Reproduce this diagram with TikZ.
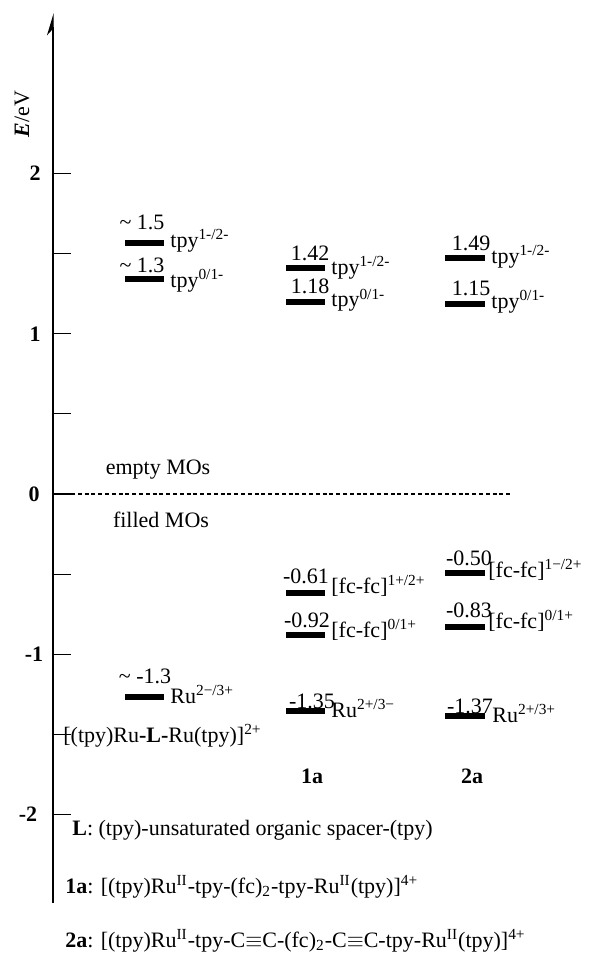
\documentclass[tikz,border=0pt]{standalone}
\usepackage{fontspec}
\setmainfont{Liberation Serif}
\usetikzlibrary{arrows.meta}
\definecolor{ink}{HTML}{000000}
\tikzset{>=Stealth,axis/.style={draw=ink,line width=0.65pt},
  tick/.style={draw=ink,line width=0.6pt},
  lvl/.style={draw=ink,line width=3pt},
  zero/.style={draw=ink,line width=0.6pt,dash pattern=on 2pt off 1.4pt},
  num/.style={anchor=base,inner sep=0pt,font=\fontsize{11}{13}\selectfont},
  lab/.style={anchor=base west,inner sep=0pt,font=\fontsize{11}{13}\selectfont},
  tickn/.style={inner sep=0pt,font=\fontsize{11}{13}\selectfont\bfseries},
  note/.style={inner sep=0pt,font=\fontsize{11}{13}\selectfont}}

\begin{document}
\begin{tikzpicture}[x=0.5pt,y=80.15pt]
  \useasboundingbox (0,-2.863) rectangle (593,3.082);
  % energy axis
  \draw[axis,-{Stealth[left,length=10pt,width=6pt]}] (53,-2.551) -- (53,3.0);
  \foreach \e in {-2,-1.5,...,2} \draw[tick] (53,\e) -- (71,\e);
  \node[tickn] (t2) at (35,2) {2};
  \node[tickn] (t1) at (35,1) {1};
  \node[tickn] (t0) at (34,0) {0};
  \node[tickn] (tm1) at (34,-1) {-1};
  \node[tickn] (tm2) at (28,-2) {-2};
  \node[note,rotate=90] (elab) at (22,2.371) {\textbf{\textit{E}}/eV};
  \draw[zero] (71,0) -- (512,0);
  \node[note] (empty) at (158,0.150) {empty MOs};
  \node[note] (filled) at (161,-0.162) {filled MOs};
  % parent complex
  \draw[lvl] (125,1.566) -- (164,1.566);
  \draw[lvl] (125,1.341) -- (164,1.341);
  \draw[lvl] (125,-1.266) -- (164,-1.266);
  \node[num] (p1v) at (142,1.653) {\textasciitilde\ 1.5};
  \node[lab] (p1l) at (170,1.541) {tpy\textsuperscript{1-/2-}};
  \node[num] (p2v) at (142,1.385) {\textasciitilde\ 1.3};
  \node[lab] (p2l) at (170,1.291) {tpy\textsuperscript{0/1-}};
  \node[num] (p3v) at (145,-1.179) {\textasciitilde\ -1.3};
  \node[lab] (p3l) at (170,-1.304) {Ru\textsuperscript{2−/3+}};
  \node[lab] (pname) at (63,-1.547) {[(tpy)Ru\textbf{-L-}Ru(tpy)]\textsuperscript{2+}};
  % 1a
  \draw[lvl] (286,1.412) -- (325,1.412);
  \draw[lvl] (286,1.200) -- (325,1.200);
  \draw[lvl] (286,-0.616) -- (325,-0.616);
  \draw[lvl] (286,-0.880) -- (325,-0.880);
  \draw[lvl] (286,-1.352) -- (325,-1.352);
  \node[num] (a1v) at (310,1.454) {1.42};
  \node[lab] (a1l) at (331,1.372) {tpy\textsuperscript{1-/2-}};
  \node[num] (a2v) at (310,1.254) {1.18};
  \node[lab] (a2l) at (331,1.167) {tpy\textsuperscript{0/1-}};
  \node[num] (a3v) at (306,-0.561) {-0.61};
  \node[lab] (a3l) at (331,-0.618) {[fc-fc]\textsuperscript{1+/2+}};
  \node[num] (a4v) at (307,-0.830) {-0.92};
  \node[lab] (a4l) at (331,-0.892) {[fc-fc]\textsuperscript{0/1+}};
  \node[num] (a5v) at (312,-1.335) {-1.35};
  \node[lab] (a5l) at (331,-1.391) {Ru\textsuperscript{2+/3−}};
  \node[note] (a) at (312,-1.759) {\textbf{1a}};
  % 2a
  \draw[lvl] (445,1.474) -- (485,1.474);
  \draw[lvl] (445,1.187) -- (485,1.187);
  \draw[lvl] (445,-0.493) -- (485,-0.493);
  \draw[lvl] (445,-0.828) -- (485,-0.828);
  \draw[lvl] (445,-1.383) -- (485,-1.383);
  \node[num] (b1v) at (471,1.522) {1.49};
  \node[lab] (b1l) at (491,1.441) {tpy\textsuperscript{1-/2-}};
  \node[num] (b2v) at (471,1.241) {1.15};
  \node[lab] (b2l) at (491,1.160) {tpy\textsuperscript{0/1-}};
  \node[num] (b3v) at (469,-0.443) {-0.50};
  \node[lab] (b3l) at (488,-0.518) {[fc-fc]\textsuperscript{1−/2+}};
  \node[num] (b4v) at (469,-0.767) {-0.83};
  \node[lab] (b4l) at (488,-0.836) {[fc-fc]\textsuperscript{0/1+}};
  \node[num] (b5v) at (470,-1.366) {-1.37};
  \node[lab] (b5l) at (492,-1.422) {Ru\textsuperscript{2+/3+}};
  \node[note] (b) at (472,-1.759) {\textbf{2a}};
  % legend
  \node[lab] (keyL) at (72,-2.127) {\textbf{L}: (tpy)-unsaturated organic spacer-(tpy)};
  \node[lab] (keya) at (65,-2.489) {\textbf{1a}: [(tpy)Ru\textsuperscript{II}-tpy-(fc)\textsubscript{2}-tpy-Ru\textsuperscript{II}(tpy)]\textsuperscript{4+}};
  \node[lab] (keyb) at (65,-2.826) {\textbf{2a}: [(tpy)Ru\textsuperscript{II}-tpy-C$\equiv$C-(fc)\textsubscript{2}-C$\equiv$C-tpy-Ru\textsuperscript{II}(tpy)]\textsuperscript{4+}};
\end{tikzpicture}
\end{document}
